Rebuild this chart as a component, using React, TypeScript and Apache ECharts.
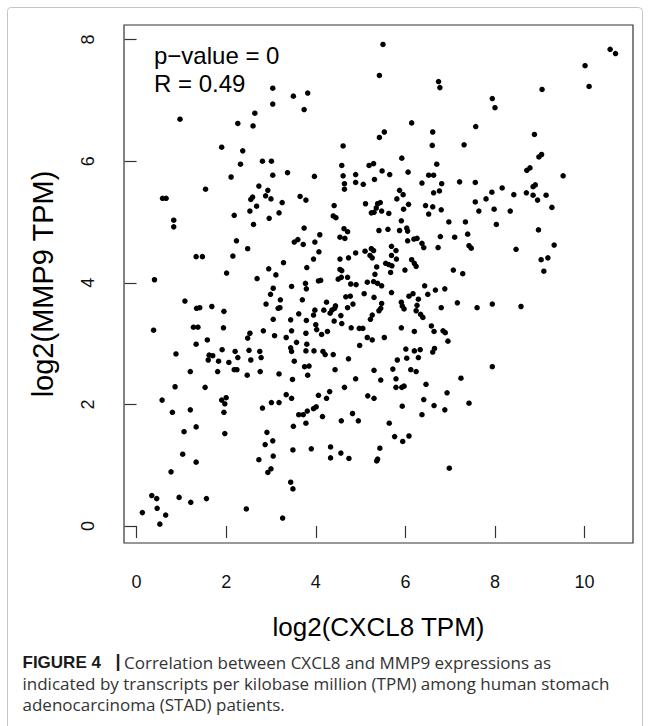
import React, { useEffect, useRef } from "react";
import * as echarts from "echarts";

// log2(CXCL8 TPM), log2(MMP9 TPM) per STAD sample
const samples: [number, number][] = [
  [3.04, 7.2], [3.5, 7.07], [3.04, 6.94], [2.64, 6.79], [0.97, 6.69], [2.26, 6.62], [2.6, 6.58], [1.9, 6.23],
  [2.37, 6.17], [2.32, 5.95], [2.81, 6.0], [3.01, 6.0], [3.04, 5.77], [3.37, 5.81], [2.11, 5.74], [1.54, 5.54],
  [2.73, 5.59], [2.93, 5.52], [2.88, 5.43], [2.59, 5.41], [0.58, 5.39], [0.66, 5.39], [3.0, 5.38],
  [5.5, 7.92], [5.42, 7.41], [6.74, 7.31], [6.77, 7.21], [3.82, 7.12], [3.74, 6.85], [6.14, 6.63], [5.42, 6.39],
  [5.53, 6.48], [6.61, 6.48], [6.6, 6.26], [7.31, 6.27], [4.61, 6.25], [5.92, 6.05], [6.7, 5.95], [4.58, 5.93],
  [5.19, 5.93], [5.29, 5.96], [3.97, 5.75], [4.61, 5.76], [4.89, 5.78], [5.48, 5.84], [5.65, 5.78], [6.06, 5.82],
  [6.52, 5.77], [6.63, 5.77], [4.89, 5.65], [5.06, 5.62], [4.64, 5.63], [4.64, 5.54], [5.31, 5.7], [6.37, 5.64],
  [6.81, 5.63], [7.21, 5.66], [5.87, 5.52], [5.95, 5.45], [6.63, 5.48], [6.76, 5.51], [3.65, 5.42], [3.78, 5.36],
  [5.81, 5.38],
  [10.57, 7.84], [10.69, 7.77], [10.01, 7.57], [10.1, 7.23], [9.05, 7.18], [7.94, 7.03], [8.0, 6.88], [7.57, 6.57],
  [8.88, 6.44], [8.98, 6.07], [9.04, 6.11], [8.71, 5.85], [8.78, 5.89], [9.52, 5.76], [7.56, 5.65], [7.93, 5.49],
  [8.16, 5.56], [7.8, 5.38], [8.42, 5.45], [8.7, 5.48], [8.85, 5.44], [8.85, 5.58], [8.9, 5.61], [9.14, 5.44],
  [8.95, 5.36],
  [2.55, 5.37], [3.25, 5.32], [2.68, 5.26], [2.53, 5.18], [3.18, 5.15], [2.18, 5.11], [2.96, 5.06], [0.83, 5.03],
  [0.83, 4.92], [2.61, 4.96], [2.23, 4.69], [3.52, 4.67], [2.48, 4.56], [1.33, 4.43], [1.47, 4.43], [2.15, 4.44],
  [3.28, 4.33], [2.95, 4.23], [3.11, 4.13], [2.01, 4.16], [2.69, 4.07], [0.4, 4.05], [3.46, 3.94], [3.05, 3.91],
  [2.99, 3.81], [3.21, 3.72], [2.89, 3.65], [3.16, 3.58], [3.2, 3.59], [1.08, 3.7], [1.34, 3.58], [1.41, 3.59],
  [1.68, 3.61], [1.95, 3.53], [3.05, 3.4], [3.44, 3.39], [0.38, 3.22], [1.27, 3.27], [1.37, 3.27], [1.94, 3.26],
  [2.53, 3.17], [2.48, 3.09], [2.83, 3.21], [3.08, 3.13], [3.34, 3.1], [3.46, 3.21], [1.58, 3.06], [1.33, 2.99],
  [3.44, 2.93], [3.46, 2.87], [0.88, 2.83], [1.62, 2.81], [1.7, 2.8], [1.91, 2.9], [2.2, 2.87], [2.26, 2.77],
  [2.51, 2.89], [2.75, 2.87], [2.78, 2.77], [2.55, 2.73], [1.6, 2.73], [1.83, 2.71], [2.06, 2.69], [3.52, 2.71],
  [2.18, 2.57], [2.24, 2.57], [1.2, 2.54], [1.81, 2.54], [2.47, 2.48], [2.76, 2.54], [3.18, 2.5], [3.48, 2.41],
  [5.11, 5.3], [5.38, 5.3], [5.44, 5.32], [5.35, 5.23], [5.24, 5.15], [5.3, 5.16], [5.47, 5.18], [5.63, 5.14],
  [6.07, 5.29], [5.96, 5.21], [6.45, 5.27], [6.61, 5.25], [6.8, 5.2], [6.52, 5.13], [4.41, 5.27], [4.39, 5.1],
  [4.45, 5.07], [6.97, 5.0], [7.34, 5.0], [5.91, 5.02], [3.74, 4.9], [4.63, 4.89], [4.71, 4.84], [5.41, 4.86],
  [5.61, 4.88], [5.87, 4.86], [6.03, 4.9], [6.05, 4.85], [6.78, 4.76], [7.1, 4.75], [4.09, 4.79], [4.54, 4.75],
  [4.65, 4.73], [3.6, 4.71], [3.72, 4.63], [3.98, 4.67], [6.05, 4.69], [6.19, 4.72], [6.26, 4.73], [6.37, 4.65],
  [6.41, 4.58], [6.73, 4.58], [5.69, 4.6], [4.07, 4.51], [3.95, 4.39], [5.1, 4.52], [5.24, 4.56], [5.29, 4.53],
  [5.21, 4.45], [5.26, 4.41], [4.89, 4.49], [4.73, 4.41], [4.54, 4.39], [5.69, 4.45], [5.79, 4.53], [5.8, 4.39],
  [5.56, 4.32], [5.63, 4.3], [5.7, 4.28], [6.14, 4.38], [6.2, 4.32], [6.24, 4.27], [5.67, 4.17], [5.99, 4.21],
  [5.36, 4.26], [5.32, 4.14], [3.8, 4.25], [4.54, 4.22], [4.58, 4.2], [7.07, 4.21], [7.28, 4.15], [4.5, 4.06],
  [4.57, 4.09], [4.71, 4.09], [4.06, 4.03], [4.11, 4.04], [4.78, 3.98], [4.9, 3.97], [5.15, 4.01], [5.29, 4.02],
  [5.38, 3.99], [5.47, 3.95], [3.77, 3.99], [3.79, 3.9], [6.43, 3.95], [6.67, 3.88], [6.88, 3.9], [6.5, 3.81],
  [5.08, 3.82], [5.69, 3.84], [4.67, 3.77], [4.77, 3.78], [5.3, 3.76], [6.08, 3.78], [6.17, 3.82], [6.29, 3.73],
  [3.7, 3.72], [4.24, 3.68], [4.44, 3.62], [4.42, 3.58], [4.36, 3.55], [4.32, 3.5], [4.18, 3.55], [4.83, 3.65],
  [4.71, 3.59], [5.47, 3.66], [5.45, 3.58], [5.41, 3.54], [5.91, 3.68], [5.93, 3.62], [5.97, 3.57], [6.26, 3.63],
  [6.24, 3.54], [6.8, 3.59], [7.16, 3.67], [3.98, 3.55], [3.95, 3.47], [3.79, 3.38], [3.62, 3.49], [4.56, 3.46],
  [4.41, 3.37], [4.58, 3.33], [5.26, 3.47], [5.22, 3.4], [6.34, 3.48], [6.39, 3.43], [4.0, 3.31], [4.02, 3.23],
  [4.13, 3.15], [4.26, 3.2], [4.79, 3.26], [4.97, 3.25], [5.05, 3.25], [5.15, 3.1], [5.26, 3.06], [5.53, 3.1],
  [5.91, 3.26], [6.2, 3.2], [6.58, 3.29], [6.64, 3.2], [6.84, 3.21], [6.89, 3.18], [6.95, 3.04], [3.78, 3.17],
  [3.57, 3.02], [3.8, 2.99], [4.98, 2.97], [3.78, 2.88], [3.96, 2.88], [4.16, 2.87], [4.21, 2.82], [4.39, 2.82],
  [6.01, 2.91], [6.2, 2.88], [6.33, 2.9], [6.65, 2.92], [6.61, 2.86], [6.03, 2.76], [6.29, 2.77], [4.73, 2.75],
  [5.82, 2.73], [3.75, 2.62], [3.85, 2.63], [4.43, 2.57], [5.3, 2.56], [5.72, 2.58], [6.12, 2.57], [6.24, 2.54],
  [3.82, 2.48], [4.89, 2.42], [5.45, 2.4], [5.79, 2.42], [7.24, 2.43],
  [7.56, 5.33], [7.64, 5.18], [7.98, 5.21], [8.34, 5.18], [9.27, 5.24], [8.03, 4.96], [8.97, 4.87], [7.39, 4.8],
  [7.42, 4.61], [7.47, 4.57], [8.47, 4.55], [9.32, 4.62], [9.03, 4.38], [9.18, 4.41], [9.09, 4.19], [7.6, 3.59],
  [7.94, 3.65], [8.58, 3.61], [7.94, 2.62],
  [0.86, 2.29], [1.53, 2.28], [0.57, 2.07], [0.8, 1.87], [1.2, 1.91], [1.9, 2.07], [2.0, 2.11], [1.97, 2.01],
  [1.95, 1.87], [1.06, 1.55], [1.33, 1.63], [1.97, 1.52], [1.03, 1.18], [1.33, 1.05], [0.77, 0.89], [0.34, 0.5],
  [0.45, 0.45], [0.95, 0.47], [1.21, 0.39], [1.56, 0.45], [0.46, 0.29], [0.65, 0.18], [0.13, 0.22], [0.52, 0.03],
  [2.45, 0.28], [3.26, 0.13], [3.34, 2.16], [3.46, 2.1], [3.18, 2.03], [3.01, 2.03], [2.81, 1.94], [3.5, 1.64],
  [2.91, 1.54], [3.04, 1.4], [2.87, 1.34], [2.73, 1.09], [3.05, 1.15], [3.49, 1.25], [3.0, 0.94], [2.93, 0.88],
  [3.44, 0.72], [3.49, 0.61],
  [3.62, 1.83], [3.72, 1.83], [3.81, 1.89], [3.78, 1.69], [3.95, 1.93], [4.01, 1.96], [4.06, 2.15], [4.15, 1.8],
  [4.24, 2.1], [4.31, 2.21], [4.64, 2.28], [5.79, 2.28], [5.92, 2.28], [5.97, 2.3], [6.46, 2.33], [4.57, 1.73],
  [4.82, 1.85], [4.95, 1.73], [5.16, 2.14], [5.3, 2.1], [5.64, 1.69], [5.93, 1.97], [6.41, 2.08], [6.37, 1.83],
  [6.64, 1.98], [6.93, 2.19], [6.88, 1.91], [5.76, 1.47], [5.94, 1.39], [6.08, 1.48], [3.9, 1.27], [4.33, 1.3],
  [4.33, 1.12], [4.56, 1.2], [4.74, 1.11], [5.43, 1.28], [5.36, 1.07], [5.38, 1.1], [6.98, 0.95],
  [7.42, 2.02],
];

const xTicks = [0, 2, 4, 6, 8, 10];
const yTicks = [0, 2, 4, 6, 8];
const xLimits = [-0.28, 11.08];
const yLimits = [-0.28, 8.24];
const xTitle = "log2(CXCL8 TPM)";
const yTitle = "log2(MMP9 TPM)";
const statLines = ["p\u2212value = 0", "R = 0.49"];
const captionLead = "FIGURE 4";
const captionBar = "|";
const captionLines = [
  "Correlation between CXCL8 and MMP9 expressions as",
  "indicated by transcripts per kilobase million (TPM) among human stomach",
  "adenocarcinoma (STAD) patients.",
];

const FONT = "'Liberation Sans', Arial, Helvetica, sans-serif";
const CAP_FONT = "'Open Sans', 'Liberation Sans', Arial, sans-serif";

export default function App() {
  const ref = useRef<HTMLDivElement>(null);
  useEffect(() => {
    if (!ref.current) return;
    const chart = echarts.init(ref.current, null, { renderer: "svg" });
    const txt = (
      text: string,
      x: number,
      y: number,
      size: number,
      opts: any = {}
    ) => ({
      type: "text",
      x,
      y,
      rotation: opts.rotation || 0,
      silent: true,
      style: {
        text,
        fill: opts.fill || "#000",
        fontSize: size,
        fontFamily: opts.family || FONT,
        fontWeight: opts.weight || "normal",
        textAlign: opts.align || "left",
        align: opts.align || "left",
        textVerticalAlign: "middle",
        verticalAlign: "middle",
      },
    });
    const graphics: any[] = [
      {
        type: "rect",
        silent: true,
        shape: { x: 7.5, y: 7.5, width: 635, height: 740, r: 4 },
        style: { fill: "none", stroke: "#c4c4c4", lineWidth: 1 },
      },
      txt(statLines[0], 154, 55, 24),
      txt(statLines[1], 154, 83.5, 24),
      txt(xTitle, 378.5, 627, 26, { align: "center" }),
      txt(yTitle, 43, 284, 29, { align: "center", rotation: Math.PI / 2 }),
      txt(captionLead, 22.5, 662, 17, { weight: "bold", fill: "#1a1a1a" }),
      txt(captionBar, 115.5, 661, 18, { weight: "bold", fill: "#1a1a1a" }),
      txt(captionLines[0], 124, 662, 17, { family: CAP_FONT, fill: "#333" }),
      txt(captionLines[1], 22.5, 683, 17, { family: CAP_FONT, fill: "#333" }),
      txt(captionLines[2], 22.5, 704, 17, { family: CAP_FONT, fill: "#333" }),
    ];
    chart.setOption({
      animation: false,
      backgroundColor: "#fff",
      grid: {
        left: 124,
        top: 25,
        right: 17,
        bottom: 183,
        show: true,
        borderColor: "#333",
        borderWidth: 1.2,
        backgroundColor: "transparent",
      },
      xAxis: {
        type: "value",
        min: xLimits[0],
        max: xLimits[1],
        axisLine: { show: false },
        splitLine: { show: false },
        axisTick: {
          show: true,
          inside: false,
          length: 12,
          customValues: xTicks,
          lineStyle: { color: "#333", width: 1.2 },
        },
        axisLabel: {
          customValues: xTicks,
          margin: 30,
          color: "#111",
          fontSize: 18,
          fontFamily: FONT,
          formatter: (v: number) => String(v),
        },
      },
      yAxis: {
        type: "value",
        min: yLimits[0],
        max: yLimits[1],
        axisLine: { show: false },
        splitLine: { show: false },
        axisTick: {
          show: true,
          inside: false,
          length: 12,
          customValues: yTicks,
          lineStyle: { color: "#333", width: 1.2 },
        },
        axisLabel: {
          customValues: yTicks,
          rotate: 90,
          margin: 27,
          color: "#111",
          fontSize: 18,
          fontFamily: FONT,
          formatter: (v: number) => String(v),
        },
      },
      series: [
        {
          type: "scatter",
          data: samples,
          symbol: "circle",
          symbolSize: 5.5,
          itemStyle: { color: "#000", opacity: 1 },
          silent: true,
        },
      ],
      graphic: graphics,
    });
    return () => chart.dispose();
  }, []);
  return (
    <div
      ref={ref}
      style={{ position: "absolute", left: 0, top: 0, width: 650, height: 726, background: "#fff" }}
    />
  );
}
